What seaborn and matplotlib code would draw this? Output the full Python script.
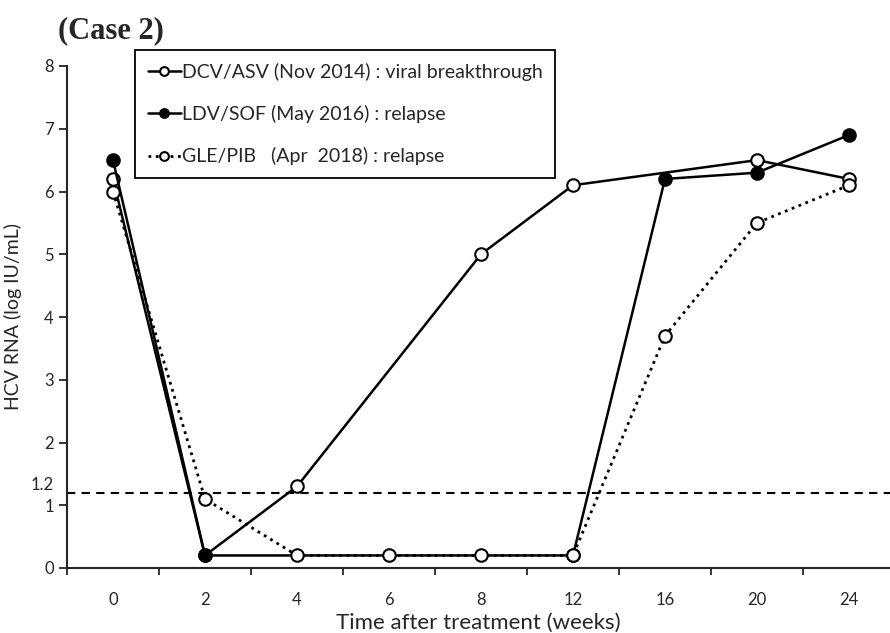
import numpy as np
import pandas as pd
import matplotlib
matplotlib.use('Agg')
from matplotlib import pyplot as plt
import seaborn as sns

# semanas (eje categórico, espaciado uniforme)
semanas = [0, 2, 4, 6, 8, 12, 16, 20, 24]

# DCV/ASV: sin datos en semana 6 y 16
dcv_semanas = [0, 2, 4, 8, 12, 20, 24]
dcv_rna = [6.2, 0.2, 1.3, 5.0, 6.1, 6.5, 6.2]

# LDV/SOF
ldv_semanas = [0, 2, 12, 16, 20, 24]
ldv_rna = [6.5, 0.2, 0.2, 6.2, 6.3, 6.9]

# GLE/PIB
gle_semanas = [0, 2, 4, 6, 8, 12, 16, 20, 24]
gle_rna = [6.0, 1.1, 0.2, 0.2, 0.2, 0.2, 3.7, 5.5, 6.1]

etiquetas = ['DCV/ASV (Nov 2014) : viral breakthrough',
             'LDV/SOF (May 2016) : relapse',
             'GLE/PIB   (Apr  2018) : relapse']

limite = 1.2

sns.set_style('ticks')
plt.rcParams['font.family'] = ['Lato', 'DejaVu Sans']

fig = plt.figure(figsize=(8.9, 6.33), dpi=100)
ax = fig.add_axes([67 / 890, 65 / 633, 823 / 890, 502 / 633])


def posiciones(ws):
    return [semanas.index(w) for w in ws]


# DCV/ASV
sns.lineplot(x=posiciones(dcv_semanas), y=dcv_rna, ax=ax, sort=False,
             color='black', lw=1.8, marker='o', markersize=9,
             markerfacecolor='white', markeredgecolor='black',
             markeredgewidth=1.5, label=etiquetas[0])
# LDV/SOF
sns.lineplot(x=posiciones(ldv_semanas), y=ldv_rna, ax=ax, sort=False,
             color='black', lw=1.8, marker='o', markersize=9,
             markerfacecolor='black', markeredgecolor='black',
             markeredgewidth=1.5, label=etiquetas[1])
# GLE/PIB
sns.lineplot(x=posiciones(gle_semanas), y=gle_rna, ax=ax, sort=False,
             color='black', lw=2, ls=':', marker='o', markersize=9,
             markerfacecolor='white', markeredgecolor='black',
             markeredgewidth=1.5, label=etiquetas[2])

# línea del límite de detección
ax.axhline(limite, color='black', ls=(0, (4, 3)), lw=1.5, zorder=1)

# ejes
ax.set_xlim(-0.5, -0.5 + 823 / 92)
ax.set_ylim(0, 8)
ax.set_xticks(range(len(semanas)))
ax.set_xticklabels([str(s) for s in semanas], fontsize=12)
ax.set_xticks(np.arange(-0.5, len(semanas) - 0.5, 1), minor=True)
ax.tick_params(axis='x', which='major', length=0, pad=17)
ax.tick_params(axis='x', which='minor', length=5, width=1.3, direction='out')

ax.set_yticks([0, 1, limite, 2, 3, 4, 5, 6, 7, 8])
ax.set_yticklabels(['0', '1', '1.2', '2', '3', '4', '5', '6', '7', '8'], fontsize=12)
ax.tick_params(axis='y', length=6, width=1.3)
ytl = ax.yaxis.get_major_ticks()
ytl[2].tick1line.set_visible(False)
ytl[2].label1.set_fontsize(12)
ytl[2].label1.set_verticalalignment('bottom')

for lado in ['top', 'right']:
    ax.spines[lado].set_visible(False)
for lado in ['left', 'bottom']:
    ax.spines[lado].set_linewidth(1.5)

ax.set_xlabel('Time after treatment (weeks)', fontsize=16, labelpad=4)
ax.set_ylabel('HCV RNA (log IU/mL)', fontsize=14, labelpad=6)

leg = ax.legend(loc='upper left', bbox_to_anchor=(135 / 890, 1 - 50 / 633),
                bbox_transform=fig.transFigure, borderaxespad=0,
                fontsize=14, frameon=True, fancybox=False, handlelength=1.7,
                handletextpad=0.05, labelspacing=1.25, borderpad=0.65,
                markerscale=0.7)
leg.get_frame().set_edgecolor('black')
leg.get_frame().set_linewidth(1.3)
leg.get_frame().set_alpha(1)

fig.text(58 / 890, 1 - 31 / 633, '(Case 2)', fontsize=22, fontweight='bold',
         family='Liberation Serif', va='center', ha='left')

plt.savefig('out.png', dpi=100)
